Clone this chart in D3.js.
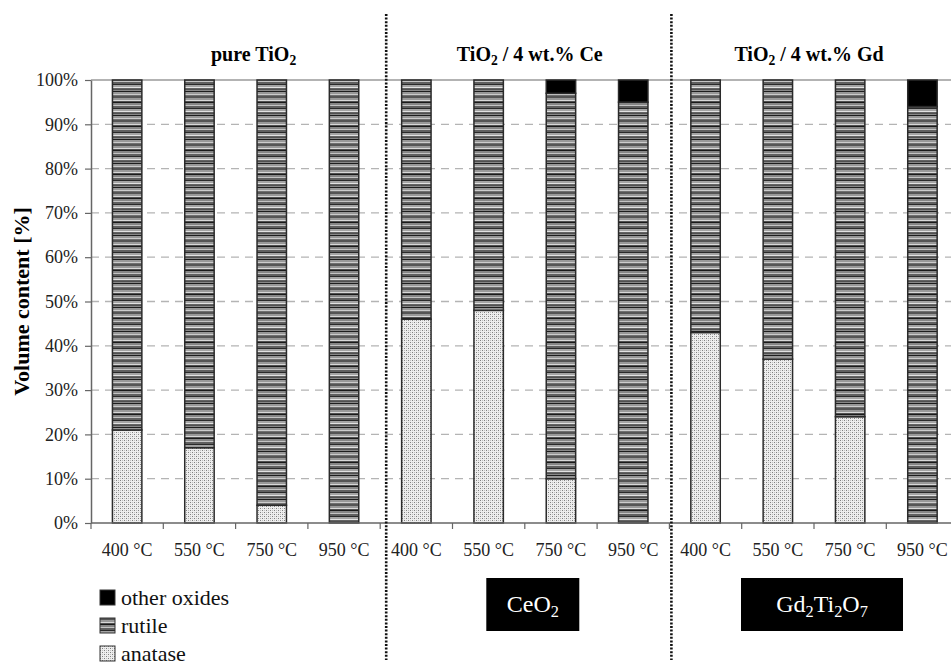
<!DOCTYPE html>
<html>
<head>
<meta charset="utf-8">
<script src="https://cdn.jsdelivr.net/npm/d3@7"></script>
<style>
  body { margin: 0; background: #fff; }
  svg text { font-family: "Liberation Serif", "Times New Roman", serif; }
</style>
</head>
<body>
<div id="chart"></div>
<script>
// data
const groups = ["pure TiO_2", "TiO_2 / 4 wt.% Ce", "TiO_2 / 4 wt.% Gd"];
const temps = ["400 °C", "550 °C", "750 °C", "950 °C"];
const anatase = [21, 17, 4, 0, 46, 48, 10, 0, 43, 37, 24, 0];
const rutile = [79, 83, 96, 100, 54, 52, 87, 95, 57, 63, 76, 94];
const other = [0, 0, 0, 0, 0, 0, 3, 5, 0, 0, 0, 6];
const yTicks = [0, 10, 20, 30, 40, 50, 60, 70, 80, 90, 100];
const phases = ["anatase", "rutile", "other"];
const legendItems = [["other", "other oxides"], ["rutile", "rutile"], ["anatase", "anatase"]];
const phaseBoxes = [[1, "CeO_2"], [2, "Gd_2Ti_2O_7"]];

// build rows for stacking
const rows = [];
groups.forEach((g, gi) => temps.forEach((t, ti) => {
    const i = gi * 4 + ti;
    rows.push({ key: gi + "-" + t, group: gi, temp: t, anatase: anatase[i], rutile: rutile[i], other: other[i] });
}));

const width = 951, height = 662;
const margin = { top: 80, left: 91, bottom: 523 };
const plotRight = 958.6;
const serif = '"Liberation Serif", "Times New Roman", serif';

const svg = d3.select('#chart').append('svg')
    .attr('width', width)
    .attr('height', height)
    .attr('font-family', serif);

// patterns
const defs = svg.append('defs');
const stripeRows = ["#555", "#555", "#999", "#999", "#d8d8d8", "#505050", "#1a1a1a", "#868686",
    "#868686", "#c4c4c4", "#606060", "#606060", "#2a2a2a", "#a4a4a4", "#a4a4a4", "#e2e2e2",
    "#646464", "#505050", "#888", "#1e1e1e", "#989898", "#989898", "#cccccc", "#707070"];
const rp = defs.append('pattern').attr('id', 'pat-rutile')
    .attr('patternUnits', 'userSpaceOnUse').attr('width', 4).attr('height', stripeRows.length);
rp.selectAll('rect').data(stripeRows).enter().append('rect')
    .attr('x', 0).attr('y', (d, i) => i).attr('width', 4).attr('height', 1).attr('fill', d => d);

const ap = defs.append('pattern').attr('id', 'pat-anatase')
    .attr('patternUnits', 'userSpaceOnUse').attr('width', 4).attr('height', 4);
ap.append('rect').attr('width', 4).attr('height', 4).attr('fill', '#eeeeee');
ap.append('rect').attr('x', 0).attr('y', 0).attr('width', 1).attr('height', 1).attr('fill', '#808080');
ap.append('rect').attr('x', 2).attr('y', 2).attr('width', 1).attr('height', 1).attr('fill', '#808080');
ap.append('rect').attr('x', 2).attr('y', 0).attr('width', 1).attr('height', 1).attr('fill', '#c0c0c0');
ap.append('rect').attr('x', 0).attr('y', 2).attr('width', 1).attr('height', 1).attr('fill', '#c0c0c0');

const fills = { anatase: 'url(#pat-anatase)', rutile: 'url(#pat-rutile)', other: '#000' };

// subscript helper: "_2" -> subscript 2
function richText(sel, str, size) {
    const parts = str.split(/(_\d)/).filter(s => s.length);
    let shifted = false;
    parts.forEach(p => {
        if (p[0] === '_') {
            sel.append('tspan').text(p.slice(1))
                .attr('font-size', size * 0.68)
                .attr('dy', shifted ? 0 : size * 0.22);
            shifted = true;
        } else {
            const ts = sel.append('tspan').text(p);
            if (shifted) ts.attr('dy', -size * 0.22);
            shifted = false;
        }
    });
}

// scales
const xScale = d3.scaleBand(rows.map(d => d.key), [margin.left, plotRight])
    .paddingInner(0.593).paddingOuter(0.2965);
const yScale = d3.scaleLinear([0, 100], [margin.bottom, margin.top]);
const step = xScale.step();

// grid lines
svg.append('g').selectAll('line')
    .data(yTicks.filter(v => v > 0 && v < 100))
    .enter().append('line')
    .attr('x1', margin.left).attr('x2', width)
    .attr('y1', d => yScale(d)).attr('y2', d => yScale(d))
    .attr('stroke', '#b4b4b4').attr('stroke-width', 1.3)
    .attr('stroke-dasharray', '8,6');
svg.append('line')
    .attr('x1', margin.left).attr('x2', width)
    .attr('y1', yScale(100)).attr('y2', yScale(100))
    .attr('stroke', '#9a9a9a').attr('stroke-width', 1.5);

// y axis
const yAxis = d3.axisLeft(yScale).tickValues(yTicks).tickFormat(d => d + '%').tickSize(6).tickSizeOuter(0);
const yG = svg.append('g').attr('transform', `translate(${margin.left},0)`).call(yAxis)
    .attr('font-family', serif).attr('font-size', 18);
yG.select('.domain').attr('stroke', '#666').attr('stroke-width', 1.5);
yG.selectAll('.tick line').attr('stroke', '#666').attr('stroke-width', 1.2);
yG.selectAll('.tick text').attr('fill', '#222').attr('x', -13);

// bars
const stacked = d3.stack().keys(phases)(rows);
const layers = svg.append('g').selectAll('g')
    .data(stacked).enter().append('g')
    .attr('fill', d => fills[d.key]);
layers.selectAll('rect')
    .data(d => d.filter(s => s[1] - s[0] > 0))
    .enter().append('rect')
    .attr('x', d => xScale(d.data.key))
    .attr('y', d => yScale(d[1]))
    .attr('width', xScale.bandwidth())
    .attr('height', d => yScale(d[0]) - yScale(d[1]))
    .attr('stroke', '#2a2a2a')
    .attr('stroke-width', 1.5);

// x axis with ticks between bands
svg.append('line')
    .attr('x1', margin.left).attr('x2', width)
    .attr('y1', margin.bottom).attr('y2', margin.bottom)
    .attr('stroke', '#666').attr('stroke-width', 1.5);
svg.append('g').selectAll('line')
    .data(d3.range(rows.length + 1))
    .enter().append('line')
    .attr('x1', i => margin.left + i * step).attr('x2', i => margin.left + i * step)
    .attr('y1', margin.bottom).attr('y2', margin.bottom + 6)
    .attr('stroke', '#666').attr('stroke-width', 1.2);
svg.append('g').selectAll('text')
    .data(rows).enter().append('text')
    .attr('x', d => xScale(d.key) + xScale.bandwidth() / 2)
    .attr('y', 556)
    .attr('text-anchor', 'middle')
    .attr('font-size', 18)
    .attr('fill', '#222')
    .text(d => d.temp);

// y label
svg.append('text')
    .attr('transform', `translate(29, ${(margin.top + margin.bottom) / 2}) rotate(-90)`)
    .attr('text-anchor', 'middle')
    .attr('font-size', 22)
    .attr('font-weight', 700)
    .text('Volume content [%]');

// group headers
const headerShift = [18, 5, -5];
groups.forEach((g, gi) => {
    const cx = margin.left + (gi * 4 + 2) * step + headerShift[gi];
    const t = svg.append('text')
        .attr('x', cx).attr('y', 61)
        .attr('text-anchor', 'middle')
        .attr('font-size', 20)
        .attr('font-weight', 700);
    richText(t, g, 20);
});

// dotted separators
svg.append('g').selectAll('line')
    .data([1, 2]).enter().append('line')
    .attr('x1', gi => margin.left + gi * 4 * step + (gi === 1 ? 6 : 2))
    .attr('x2', gi => margin.left + gi * 4 * step + (gi === 1 ? 6 : 2))
    .attr('y1', 14).attr('y2', 660)
    .attr('stroke', '#111').attr('stroke-width', 2.6)
    .attr('stroke-dasharray', '2,1.6');

// boxes with secondary phases
const boxW = { 1: 93, 2: 162 };
phaseBoxes.forEach(([gi, label]) => {
    const cx = margin.left + (gi * 4 + 2) * step + 8;
    svg.append('rect')
        .attr('x', cx - boxW[gi] / 2).attr('y', 578)
        .attr('width', boxW[gi]).attr('height', 53)
        .attr('fill', '#000');
    const t = svg.append('text')
        .attr('x', cx).attr('y', 612)
        .attr('text-anchor', 'middle')
        .attr('font-size', 24)
        .attr('fill', '#fff');
    richText(t, label, 24);
});

// legend
const leg = svg.append('g').selectAll('g')
    .data(legendItems).enter().append('g')
    .attr('transform', (d, i) => `translate(100, ${590 + i * 28})`);
leg.append('rect')
    .attr('width', 15).attr('height', 15)
    .attr('fill', d => fills[d[0]])
    .attr('stroke', '#333').attr('stroke-width', 1);
leg.append('text')
    .attr('x', 21).attr('y', 15)
    .attr('font-size', 22)
    .attr('fill', '#111')
    .text(d => d[1]);
</script>
</body>
</html>
